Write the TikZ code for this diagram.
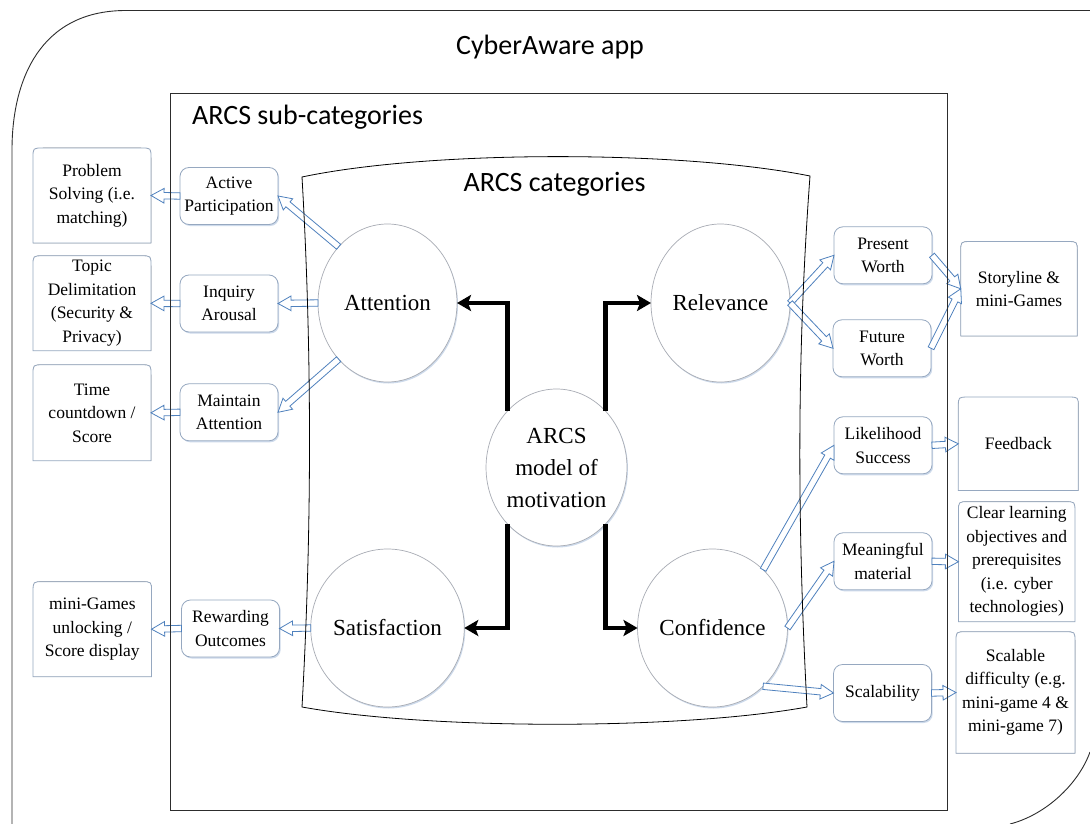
\documentclass[tikz,border=0pt]{standalone}
\usepackage{fontspec}
\setmainfont{Liberation Serif}
\newfontfamily\titlefont{Carlito}
\usetikzlibrary{arrows.meta,calc,shapes.geometric,shadows}

\definecolor{framegray}{RGB}{45,45,45}
\definecolor{arrowblue}{RGB}{79,129,189}
\definecolor{boxline}{RGB}{150,168,192}
\definecolor{ringline}{RGB}{168,172,180}
\definecolor{shade}{RGB}{205,218,235}

\pgfdeclarelayer{front}
\pgfsetlayers{main,front}

% hollow block arrow between two points
\def\hsw{3.2pt}\def\hhw{7.3pt}\def\hl{13pt}
\newcommand\hollowarrow[2]{%
  \draw[hollow] let \p1=(#1), \p2=(#2), \n1={atan2(\y2-\y1,\x2-\x1)} in
    ($(\p1)+(\n1+90:\hsw)$)
    -- ($(\p2)+(\n1+180:\hl)+(\n1+90:\hsw)$)
    -- ($(\p2)+(\n1+180:\hl)+(\n1+90:\hhw)$)
    -- (\p2)
    -- ($(\p2)+(\n1+180:\hl)+(\n1-90:\hhw)$)
    -- ($(\p2)+(\n1+180:\hl)+(\n1-90:\hsw)$)
    -- ($(\p1)+(\n1-90:\hsw)$) -- cycle;}

% outline with rounded top corners and square bottom corners
\newcommand\tabpath[1]{(#1.south west)
    -- ([yshift=-10pt]#1.north west) .. controls (#1.north west) .. ([xshift=10pt]#1.north west)
    -- ([xshift=-10pt]#1.north east) .. controls (#1.north east) .. ([yshift=-10pt]#1.north east)
    -- (#1.south east) -- cycle}
\newcommand\roundtop[1]{%
  \fill[shade, xshift=1.2pt, yshift=-1.5pt] \tabpath{#1};
  \draw[tabline, fill=white] \tabpath{#1};}

\begin{document}
\begin{tikzpicture}[x=1pt,y=-1pt,
  circ/.style={ellipse, draw=ringline, line width=0.7pt, fill=white,
    minimum width=139pt, minimum height=158pt, inner sep=0pt, outer sep=0pt,
    align=center, font=\fontsize{23}{32}\selectfont,
    drop shadow={shadow xshift=1pt, shadow yshift=-1.5pt, fill=shade, opacity=1}},
  sub/.style={rectangle, rounded corners=9pt, draw=boxline, line width=0.8pt, fill=white,
    minimum width=98pt, minimum height=57pt, inner sep=0pt, outer sep=0pt,
    align=center, font=\fontsize{17.5}{23.5}\selectfont,
    drop shadow={shadow xshift=1.2pt, shadow yshift=-1.5pt, fill=shade, opacity=1}},
  outbox/.style={rectangle, inner sep=0pt, outer sep=0pt,
    align=center, font=\fontsize{17.5}{23.5}\selectfont},
  tabline/.style={draw=boxline, line width=0.8pt},
  hollow/.style={draw=arrowblue, line width=0.8pt, fill=white, line join=miter},
  frame/.style={draw=framegray, line width=0.9pt},
  mainflow/.style={line width=4.5pt, line join=miter,
    -{Stealth[length=14pt,width=16pt,inset=3pt]}},
  title/.style={font=\titlefont\fontsize{28}{34}\selectfont, inner sep=0pt}
]
\useasboundingbox (0,0) rectangle (1090,824);
\fill[white] (0,0) rectangle (1090,824);

% ---- titles
\node[title] (apptitle) at (550,47) {CyberAware app};
\node[title, anchor=west] (subtitle) at (192,117) {ARCS sub-categories};
\node[title] (cattitle) at (554.5,184) {ARCS categories};

% ---- ARCS categories
\node[circ] (att) at (387.5,303) {Attention};
\node[circ] (rel) at (720.5,303) {Relevance};
\node[circ] (sat) at (387.5,628) {Satisfaction};
\node[circ] (conf) at (712.5,628) {Confidence};
\node[circ, minimum width=137pt, minimum height=157pt] (model) at (556.5,467.5)
  {ARCS\\model of\\motivation};

% ---- sub-categories
\node[sub] (ap) at (229,196) {Active\\Participation};
\node[sub] (ia) at (229,303.5) {Inquiry\\Arousal};
\node[sub] (ma) at (229,412.3) {Maintain\\Attention};
\node[sub] (ro) at (230.5,628.5) {Rewarding\\Outcomes};
\node[sub] (pw) at (883,255.3) {Present\\Worth};
\node[sub] (fw) at (882,348.3) {Future\\Worth};
\node[sub] (ls) at (883,445.3) {Likelihood\\Success};
\node[sub] (mm) at (883,561.3) {Meaningful\\material};
\node[sub] (scal) at (882.5,693) {Scalability};

% ---- app features: outlines first, then the text on top
\path[every node/.style={outbox}]
  node[minimum width=118pt, minimum height=95pt] (ps) at (92,195.5) {}
  node[minimum width=118pt, minimum height=95pt] (td) at (92,303.3) {}
  node[minimum width=118pt, minimum height=96pt] (tc) at (92,412.8) {}
  node[minimum width=118.5pt, minimum height=95pt] (mg) at (92.3,629.2) {}
  node[minimum width=116.5pt, minimum height=94.5pt] (story) at (1019,288.8) {}
  node[minimum width=120pt, minimum height=93.5pt] (fb) at (1018.3,443.8) {}
  node[minimum width=116.5pt, minimum height=120pt] (clear) at (1016.7,561.7) {}
  node[minimum width=119pt, minimum height=121.5pt] (sd) at (1015.5,692.5) {};
\foreach \b in {ps,td,tc,mg,story,fb,clear,sd} {\roundtop{\b}}
\node[outbox] (pstext) at (ps) {Problem\\Solving (i.e.\\matching)};
\node[outbox] (tdtext) at (td) {Topic\\Delimitation\\(Security \&\\Privacy)};
\node[outbox] (tctext) at (tc) {Time\\countdown /\\Score};
\node[outbox] (mgtext) at (mg) {mini-Games\\unlocking /\\Score display};
\node[outbox] (storytext) at (story) {Storyline \&\\mini-Games};
\node[outbox] (fbtext) at (fb) {Feedback};
\node[outbox] (cleartext) at (clear)
  {Clear learning\\objectives and\\prerequisites\\(i.e. cyber\\technologies)};
\node[outbox] (sdtext) at (sd) {Scalable\\difficulty (e.g.\\mini-game 4 \&\\mini-game 7)};

% ---- main flow from the model to the four categories
\draw[mainflow] (model.131) |- (att.east);
\draw[mainflow] (model.49) |- (rel.west);
\draw[mainflow] (model.229) |- (sat.east);
\draw[mainflow] (model.311) |- (conf.west);

% ---- category to sub-category to feature
\hollowarrow{att.131}{ap.east}
\hollowarrow{att.west}{ia.east}
\hollowarrow{att.229}{ma.east}
\hollowarrow{sat.west}{ro.east}
\hollowarrow{ap.west}{ps.east}
\hollowarrow{ia.west}{td.east}
\hollowarrow{ma.west}{tc.east}
\hollowarrow{ro.west}{mg.east}
\hollowarrow{rel.east}{pw.west}
\hollowarrow{rel.east}{fw.west}
\hollowarrow{pw.east}{story.west}
\hollowarrow{fw.east}{story.west}
\hollowarrow{conf.49}{ls.west}
\hollowarrow{conf.east}{mm.west}
\hollowarrow{conf.311}{scal.west}
\hollowarrow{ls.east}{fb.west}
\hollowarrow{mm.east}{clear.west}
\hollowarrow{scal.east}{sd.west}

% ---- frames
\begin{pgfonlayer}{front}
  % app outline
  \draw[frame] (12,824) -- (12,150) .. controls (12,80) and (40,11) .. (125,10.5) -- (1090,10.5);
  \draw[frame] (1090,752) .. controls (1078,785) and (1045,815) .. (1010,824);
  % sub-categories panel
  \draw[frame] (170,93) rectangle (947,810);
  % categories panel with curved sides
  \draw[frame, line width=0.8pt, draw=black]
    (302,177) .. controls (430,150) and (680,150) .. (810,176)
    .. controls (797,350) and (797,520) .. (807,707)
    .. controls (680,730) and (430,730) .. (302,707)
    .. controls (312,530) and (312,350) .. (302,177) -- cycle;
\end{pgfonlayer}
\end{tikzpicture}
\end{document}
